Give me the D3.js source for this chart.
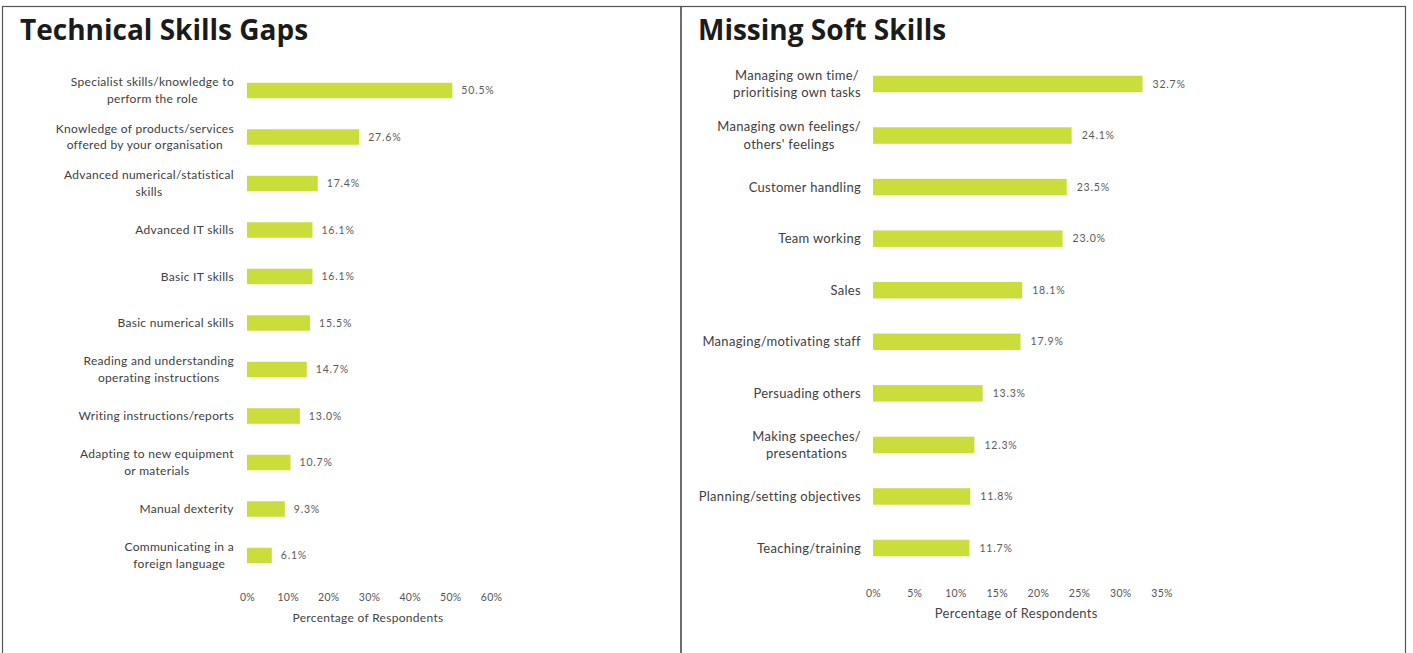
<!DOCTYPE html>
<html>
<head>
<meta charset="utf-8">
<script src="https://cdn.jsdelivr.net/npm/d3@7"></script>
<style>
  html, body { margin: 0; padding: 0; background: #fff; }
  svg { display: block; }
</style>
</head>
<body>
<svg id="chart" width="1413" height="653"></svg>
<script>
// technical skills (left panel)
const techCategories = [
  "Specialist skills/knowledge to\nperform the role",
  "Knowledge of products/services\noffered by your organisation",
  "Advanced numerical/statistical\nskills",
  "Advanced IT skills",
  "Basic IT skills",
  "Basic numerical skills",
  "Reading and understanding\noperating instructions",
  "Writing instructions/reports",
  "Adapting to new equipment\nor materials",
  "Manual dexterity",
  "Communicating in a\nforeign language"
];
const techValues = [50.5, 27.6, 17.4, 16.1, 16.1, 15.5, 14.7, 13.0, 10.7, 9.3, 6.1];
const techTicks = [0, 10, 20, 30, 40, 50, 60];

// soft skills (right panel)
const softCategories = [
  "Managing own time/\nprioritising own tasks",
  "Managing own feelings/\nothers' feelings",
  "Customer handling",
  "Team working",
  "Sales",
  "Managing/motivating staff",
  "Persuading others",
  "Making speeches/\npresentations",
  "Planning/setting objectives",
  "Teaching/training"
];
const softValues = [32.7, 24.1, 23.5, 23.0, 18.1, 17.9, 13.3, 12.3, 11.8, 11.7];
const softTicks = [0, 5, 10, 15, 20, 25, 30, 35];

const svg = d3.select("#chart");
const barColor = "#cbdd3a";
const font = "Lato, 'Open Sans', sans-serif";

// panel frames
svg.append("rect")
  .attr("x", 2.5).attr("y", 6.5).attr("width", 678.5).attr("height", 660)
  .attr("fill", "none").attr("stroke", "#555").attr("stroke-width", 1.2);
svg.append("rect")
  .attr("x", 681).attr("y", 6.5).attr("width", 724.5).attr("height", 660)
  .attr("fill", "none").attr("stroke", "#555").attr("stroke-width", 1.2);

function drawPanel({
  title, titleX, categories, values, ticks, xDomain, xRange, yRange,
  barPad, labelRight, labelSize, lineGap, valueGap, tickY, axisTitleY
}) {
  const g = svg.append("g");

  g.append("text")
    .attr("x", titleX).attr("y", 40)
    .attr("font-family", "'Open Sans', sans-serif")
    .attr("font-weight", 700)
    .attr("font-size", 28)
    .attr("fill", "#1b1b1b")
    .text(title);

  const x = d3.scaleLinear().domain(xDomain).range(xRange);
  const y = d3.scaleBand()
    .domain(categories)
    .range(yRange)
    .paddingInner(barPad)
    .paddingOuter(barPad / 2);

  g.selectAll("rect.bar")
    .data(values)
    .join("rect")
    .attr("class", "bar")
    .attr("x", x(0))
    .attr("y", (d, i) => y(categories[i]))
    .attr("width", d => x(d) - x(0))
    .attr("height", y.bandwidth())
    .attr("fill", barColor);

  // value labels
  g.selectAll("text.val")
    .data(values)
    .join("text")
    .attr("class", "val")
    .attr("x", d => x(d) + valueGap)
    .attr("y", (d, i) => y(categories[i]) + y.bandwidth() / 2)
    .attr("dy", "0.35em")
    .attr("font-family", font)
    .attr("font-size", 10.5)
    .attr("letter-spacing", 0.8)
    .attr("fill", "#5a5a5a")
    .text(d => d.toFixed(1) + "%");

  // category labels: multi-line ones are centred as a block, block is right aligned
  categories.forEach(c => {
    const lines = c.split("\n");
    const cy = y(c) + y.bandwidth() / 2;
    const t = g.append("text")
      .attr("font-family", font)
      .attr("font-size", labelSize)
      .attr("letter-spacing", 0.3)
      .attr("fill", "#404040")
      .attr("text-anchor", "middle");
    const spans = t.selectAll("tspan")
      .data(lines)
      .join("tspan")
      .attr("x", 0)
      .attr("y", (d, i) => cy + (i - (lines.length - 1) / 2) * lineGap)
      .attr("dy", "0.35em")
      .text(d => d);
    const w = t.node().getBBox().width;
    spans.attr("x", labelRight - w / 2);
  });

  const axis = d3.axisBottom(x)
    .tickValues(ticks)
    .tickSize(0)
    .tickFormat(d => d + "%");
  const ax = g.append("g")
    .attr("transform", `translate(0,${tickY - 6})`)
    .call(axis);
  ax.select(".domain").remove();
  ax.selectAll("text")
    .attr("font-family", font)
    .attr("font-size", 10.5)
    .attr("letter-spacing", 0.3)
    .attr("fill", "#555");

  g.append("text")
    .attr("x", (xRange[0] + xRange[1]) / 2 - 1)
    .attr("y", axisTitleY)
    .attr("dy", "0.35em")
    .attr("text-anchor", "middle")
    .attr("font-family", font)
    .attr("font-size", labelSize)
    .attr("letter-spacing", 0.3)
    .attr("fill", "#444")
    .text("Percentage of Respondents");
}

drawPanel({
  title: "Technical Skills Gaps",
  titleX: 20,
  categories: techCategories,
  values: techValues,
  ticks: techTicks,
  xDomain: [0, 60],
  xRange: [247, 491],
  yRange: [67.25, 578.75],
  barPad: 0.667,
  labelRight: 234,
  labelSize: 12,
  lineGap: 16.5,
  valueGap: 9,
  tickY: 597,
  axisTitleY: 618
});

drawPanel({
  title: "Missing Soft Skills",
  titleX: 698,
  categories: softCategories,
  values: softValues,
  ticks: softTicks,
  xDomain: [0, 35],
  xRange: [873, 1161.5],
  yRange: [58.2, 573.8],
  barPad: 0.68,
  labelRight: 861,
  labelSize: 13,
  lineGap: 17.5,
  valueGap: 10,
  tickY: 593,
  axisTitleY: 613
});
</script>
</body>
</html>
